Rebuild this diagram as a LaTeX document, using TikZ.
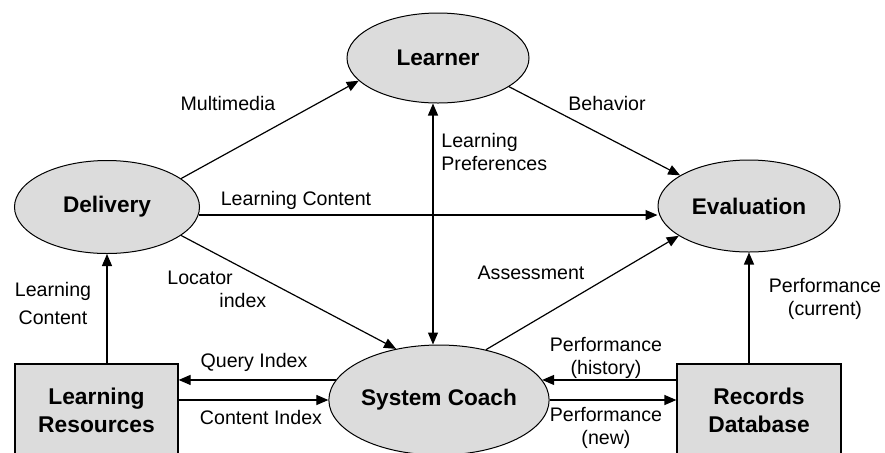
\documentclass[tikz,border=0pt]{standalone}
\usepackage{fontspec}
\setmainfont{Liberation Sans}
\usetikzlibrary{arrows.meta,shapes.geometric}
\definecolor{nodegray}{HTML}{DCDCDC}
\begin{document}
\begin{tikzpicture}[x=0.5pt,y=-0.5pt,
  ell/.style={ellipse,draw,fill=nodegray,line width=0.5pt,inner sep=0pt,font=\fontsize{11.3}{13}\selectfont\bfseries},
  box/.style={rectangle,draw,fill=nodegray,line width=0.6pt,inner sep=0pt,align=center,font=\fontsize{11.4}{14}\selectfont\bfseries},
  lbl/.style={inner sep=0pt,align=center,font=\fontsize{9.8}{11.5}\selectfont},
  arr/.style={-{Triangle[length=6pt,width=5pt]},line width=0.6pt},
  darr/.style={{Triangle[length=6pt,width=5pt]}-{Triangle[length=6pt,width=5pt]},line width=0.6pt}]
\clip (0,0) rectangle (885,452);
\fill[white] (0,0) rectangle (885,452);
% nodes
\node[ell,minimum width=91pt,minimum height=45pt] (learner) at (438,58) {Learner};
\node[ell,minimum width=92.5pt,minimum height=46.5pt] (del) at (107,207) {Delivery};
\node[ell,minimum width=91pt,minimum height=46pt] (eval) at (749,206) {Evaluation};
\node[ell,minimum width=91pt,minimum height=55pt] (sc) at (439,400) {System Coach};
\node[box,minimum width=81.5pt,minimum height=46pt] (lr) at (96.5,410) {Learning\\Resources};
\node[box,minimum width=82pt,minimum height=46pt] (rd) at (759,410) {Records\\Database};
% connectors
\draw[arr] (del.21.8) -- (learner.196.5);
\draw[arr] (learner.338) -- (eval.156);
\draw[arr] (del.-5) -- (del.-5 -| eval.west);
\draw[darr] ([xshift=-2.5pt]learner.south) -- ([xshift=-3pt]sc.north);
\draw[arr] (del.-21) -- (sc.130);
\draw[arr] (sc.47.5) -- (eval.203);
\draw[arr] (del.south |- lr.north) -- (del.south);
\draw[arr] (eval.south |- rd.north) -- (eval.south);
\draw[arr] (sc.169) -- (sc.169 -| lr.east);
\draw[arr] (lr.east |- sc.west) -- (sc.west);
\draw[arr] (rd.west |- sc.11) -- (sc.11);
\draw[arr] (sc.east) -- (sc.east -| rd.west);
% labels
\node[lbl] (l1) at (228,103) {Multimedia};
\node[lbl] (l2) at (607,103) {Behavior};
\node[lbl,align=left,anchor=west] (l3) at (441,152) {Learning\\Preferences};
\node[lbl] (l4) at (296,200) {Learning Content};
\node[lbl,align=left,anchor=west] (l5) at (167,289) {Locator\\\hspace*{26pt}index};
\node[lbl,font=\fontsize{9.8}{14}\selectfont] (l6) at (53,303) {Learning\\Content};
\node[lbl] (l7) at (531,273) {Assessment};
\node[lbl] (l8) at (825,299) {Performance\\(current)};
\node[lbl] (l9) at (254,362) {Query Index};
\node[lbl] (l10) at (261,417) {Content Index};
\node[lbl] (l11) at (606,358) {Performance\\(history)};
\node[lbl] (l12) at (606,428) {Performance\\(new)};
\end{tikzpicture}
\end{document}
